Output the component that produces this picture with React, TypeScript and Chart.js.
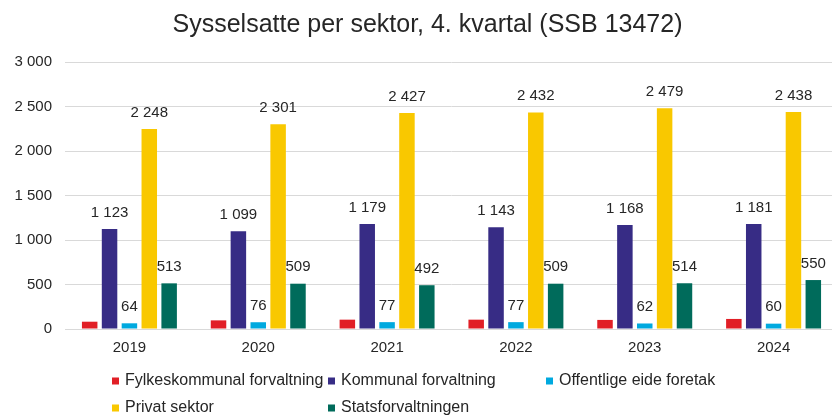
import React, { useEffect, useRef } from "react";
import { Chart, registerables } from "chart.js";

Chart.register(...registerables);

const titleText = "Sysselsatte per sektor, 4. kvartal (SSB 13472)";
const years = ["2019", "2020", "2021", "2022", "2023", "2024"];
const seriesNames = [
  "Fylkeskommunal forvaltning",
  "Kommunal forvaltning",
  "Offentlige eide foretak",
  "Privat sektor",
  "Statsforvaltningen",
];
const fylkeskommunal = [82, 97, 105, 105, 102, 113];
const kommunal = [1123, 1099, 1179, 1143, 1168, 1181];
const offentlige = [64, 76, 77, 77, 62, 60];
const privat = [2248, 2301, 2427, 2432, 2479, 2438];
const stats = [513, 509, 492, 509, 514, 550];
const yMin = 0;
const yMax = 3000;
const yStep = 500;

const colors = ["#e11f26", "#372c85", "#00a9df", "#f9c800", "#006b5b"];
const labelledSeries = [false, true, true, true, true];

const FONT = "'Liberation Sans', Arial, sans-serif";
const TEXT = "#262626";

function fmt(v: number): string {
  const s = Math.round(v).toString();
  return s.replace(/\B(?=(\d{3})+(?!\d))/g, " ");
}

const titlePlugin = {
  id: "centeredTitle",
  afterDraw(chart: any) {
    const ctx = chart.ctx;
    ctx.save();
    ctx.font = `25px ${FONT}`;
    ctx.fillStyle = TEXT;
    ctx.textAlign = "center";
    ctx.textBaseline = "middle";
    ctx.fillText(titleText, chart.width / 2, 25);
    ctx.restore();
  },
};

const dataLabelPlugin = {
  id: "dataLabels",
  afterDatasetsDraw(chart: any) {
    const ctx = chart.ctx;
    ctx.save();
    ctx.font = `15px ${FONT}`;
    ctx.fillStyle = TEXT;
    ctx.textAlign = "center";
    ctx.textBaseline = "middle";
    chart.data.datasets.forEach((ds: any, i: number) => {
      if (!labelledSeries[i]) return;
      const meta = chart.getDatasetMeta(i);
      meta.data.forEach((bar: any, j: number) => {
        ctx.fillText(fmt(ds.data[j]), bar.x, bar.y - 16.5);
      });
    });
    ctx.restore();
  },
};

const legendPlugin = {
  id: "gridLegend",
  afterDraw(chart: any) {
    const ctx = chart.ctx;
    const cols = [112, 328, 546];
    const rows = [381, 408];
    ctx.save();
    ctx.font = `16px ${FONT}`;
    ctx.textAlign = "left";
    ctx.textBaseline = "middle";
    chart.data.datasets.forEach((ds: any, i: number) => {
      const x = cols[i % 3];
      const y = rows[Math.floor(i / 3)];
      ctx.fillStyle = ds.backgroundColor;
      ctx.fillRect(x, y - 3.5, 7, 7);
      ctx.fillStyle = TEXT;
      ctx.fillText(ds.label, x + 13, y);
    });
    ctx.restore();
  },
};

export default function App() {
  const canvasRef = useRef<HTMLCanvasElement | null>(null);

  useEffect(() => {
    if (!canvasRef.current) return;
    const seriesData = [fylkeskommunal, kommunal, offentlige, privat, stats];
    const chart = new Chart(canvasRef.current, {
      type: "bar",
      data: {
        labels: years,
        datasets: seriesNames.map((name, i) => ({
          label: name,
          data: seriesData[i],
          backgroundColor: colors[i],
          borderWidth: 0,
          categoryPercentage: 0.771,
          barPercentage: 0.78,
        })),
      },
      options: {
        animation: false,
        responsive: true,
        maintainAspectRatio: false,
        devicePixelRatio: 1,
        layout: { padding: { left: 0, right: 17, top: 62, bottom: 52 } },
        plugins: {
          legend: { display: false },
          tooltip: { enabled: false },
          title: { display: false },
        },
        scales: {
          x: {
            grid: { display: false, drawTicks: false },
            border: { display: true, color: "#d9d9d9", width: 1 },
            ticks: {
              color: TEXT,
              padding: 10,
              font: { family: FONT, size: 15 },
              maxRotation: 0,
            },
          },
          y: {
            min: yMin,
            max: yMax,
            afterFit: (scale: any) => {
              scale.width = 65;
            },
            grid: { color: "#d9d9d9", lineWidth: 1, drawTicks: false },
            border: { display: false },
            ticks: {
              stepSize: yStep,
              color: TEXT,
              padding: 13,
              font: { family: FONT, size: 15 },
              callback: (v: any) => fmt(Number(v)),
            },
          },
        },
      },
      plugins: [titlePlugin, dataLabelPlugin, legendPlugin],
    });
    return () => chart.destroy();
  }, []);

  return (
    <div
      style={{
        position: "fixed",
        left: 0,
        top: 0,
        width: 832,
        height: 419,
        overflow: "hidden",
        background: "#ffffff",
      }}
    >
      <div style={{ position: "relative", width: 855, height: 419 }}>
        <canvas ref={canvasRef} />
      </div>
    </div>
  );
}
